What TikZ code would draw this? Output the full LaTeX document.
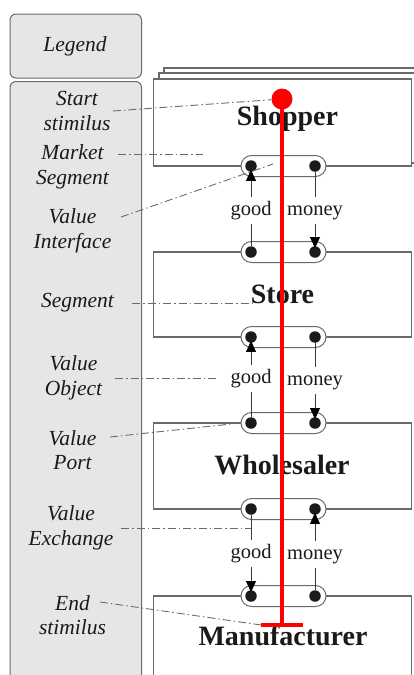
\documentclass[tikz,border=0pt]{standalone}
\usepackage{fontspec}
\setmainfont{Liberation Serif}
\usetikzlibrary{arrows.meta}
\definecolor{panelfill}{HTML}{E6E6E6}
\definecolor{edge}{HTML}{6A6A6A}
\definecolor{ink}{HTML}{1A1A1A}
\definecolor{wire}{HTML}{3A3A3A}
\begin{document}
\begin{tikzpicture}[x=1pt,y=-1pt,
  panel/.style={fill=panelfill, draw=edge, line width=1pt, rounded corners=6pt},
  legtext/.style={font=\fontsize{21.5}{24.5}\selectfont\itshape, align=center, text=ink, inner sep=3pt},
  entbox/.style={draw=edge, fill=white, line width=1.3pt, minimum width=258pt, inner sep=0pt},
  entname/.style={font=\fontsize{28}{32}\selectfont\bfseries, text=ink, anchor=base, inner sep=0pt},
  pill/.style={draw=edge, fill=white, line width=1pt, rounded corners=10.5pt, minimum width=85pt, minimum height=21pt, inner sep=0pt},
  port/.style={circle, fill=ink, minimum size=11.5pt, inner sep=0pt},
  vobj/.style={font=\fontsize{20.5}{24}\selectfont, text=ink, inner sep=1.5pt, anchor=base},
  flow/.style={draw=wire, line width=1pt},
  give/.style={flow, -{Triangle[width=10pt,length=11pt,color=black]}, shorten >=-2pt},
  leader/.style={draw=edge, line width=0.9pt, dash pattern=on 8pt off 3pt on 1.5pt off 3pt},
  stim/.style={draw=red, line width=4pt},
]
\useasboundingbox (0,0) rectangle (413,675);

% legend column
\draw[panel] (10,14) rectangle (141.5,78);
\draw[panel] (10,81.5) rectangle (141.5,700);
\node[legtext] (lLegend) at (75,46) {Legend};
\node[legtext] (lStart) at (77,111) {Start\\stimilus};
\node[legtext] (lMarket) at (72.5,167) {Market\\Segment};
\node[legtext] (lIface) at (72.5,231) {Value\\Interface};
\node[legtext] (lSeg) at (77.5,303) {Segment};
\node[legtext] (lObj) at (73.5,378) {Value\\Object};
\node[legtext] (lPort) at (72.5,450) {Value\\Port};
\node[legtext] (lExch) at (71,528) {Value\\Exchange};
\node[legtext] (lEnd) at (72.5,615) {End\\stimilus};

% actors: the market segment is drawn as a stack
\draw[entbox] (164,68) rectangle (422,160);
\draw[entbox] (159,73) rectangle (417,163);
\node[entbox, minimum height=87pt] (bShop) at (282.5,122.5) {};
\node[entbox, minimum height=85pt] (bStore) at (282.5,294.5) {};
\node[entbox, minimum height=86pt] (bWhole) at (282.5,466) {};
\node[entbox, minimum height=104pt] (bManu) at (282.5,648) {};
\node[entname] (nShop) at (287.5,125) {Shopper};
\node[entname] (nStore) at (282.5,303) {Store};
\node[entname] (nWhole) at (282,474) {Wholesaler};
\node[entname] (nManu) at (283,645) {Manufacturer};

% value interfaces with their ports
\node[pill] (piShop) at (283.5,166) {};
\node[port] (sbL) at (251,166) {};
\node[port] (sbR) at (315,166) {};
\node[pill] (piStoreT) at (283.5,252) {};
\node[port] (stL) at (251,252) {};
\node[port] (stR) at (315,252) {};
\node[pill] (piStoreB) at (283.5,337) {};
\node[port] (sdL) at (251,337) {};
\node[port] (sdR) at (315,337) {};
\node[pill] (piWholeT) at (283.5,423) {};
\node[port] (wtL) at (251,423) {};
\node[port] (wtR) at (315,423) {};
\node[pill] (piWholeB) at (283.5,509) {};
\node[port] (wbL) at (251,509) {};
\node[port] (wbR) at (315,509) {};
\node[pill] (piManu) at (283.5,596) {};
\node[port] (mtL) at (251,596) {};
\node[port] (mtR) at (315,596) {};

% value exchanges
\node[vobj] (g1) at (251,215) {\strut good};
\node[vobj] (m1) at (315,215) {\strut money};
\draw[flow] (stL) -- (g1);
\draw[give] (g1) -- (sbL);
\draw[flow] (sbR) -- (m1);
\draw[give] (m1) -- (stR);

\node[vobj] (g2) at (251,383) {\strut good};
\node[vobj] (m2) at (315,385) {\strut money};
\draw[flow] (wtL) -- (g2);
\draw[give] (g2) -- (sdL);
\draw[flow] (sdR) -- (m2);
\draw[give] (m2) -- (wtR);

\node[vobj] (g3) at (251,558) {\strut good};
\node[vobj] (m3) at (315,559) {\strut money};
\draw[flow] (wbL) -- (g3);
\draw[give] (g3) -- (mtL);
\draw[flow] (mtR) -- (m3);
\draw[give] (m3) -- (wbR);

% scenario path
\node[circle, fill=red, minimum size=21pt, inner sep=0pt] (st) at (282,99) {};
\coordinate (en) at (282,625);
\coordinate (enL) at (261,625);
\coordinate (enR) at (303,625);

% legend leaders
\coordinate (aStart) at (113,111);
\coordinate (aMarket) at (118,154);
\coordinate (aIface) at (121,217);
\coordinate (aSeg) at (132,303);
\coordinate (aObj) at (115,378);
\coordinate (aPort) at (110,437);
\coordinate (aExch) at (121,528);
\coordinate (aEnd) at (100,602);
\coordinate (tMarket) at (203,154);
\coordinate (tIface) at (273,164);
\coordinate (tSeg) at (253,303);
\coordinate (tObj) at (218,378);
\coordinate (tExch) at (251,528);
\draw[leader] (aStart) -- (st);
\draw[leader] (aMarket) -- (tMarket);
\draw[leader] (aIface) -- (tIface);
\draw[leader] (aSeg) -- (tSeg);
\draw[leader] (aObj) -- (tObj);
\draw[leader] (aPort) -- (piWholeT.west);
\draw[leader] (aExch) -- (tExch);
\draw[leader] (aEnd) -- (enL);

\draw[stim] (st.center) -- (en);
\draw[stim] (enL) -- (enR);
\end{tikzpicture}
\end{document}
